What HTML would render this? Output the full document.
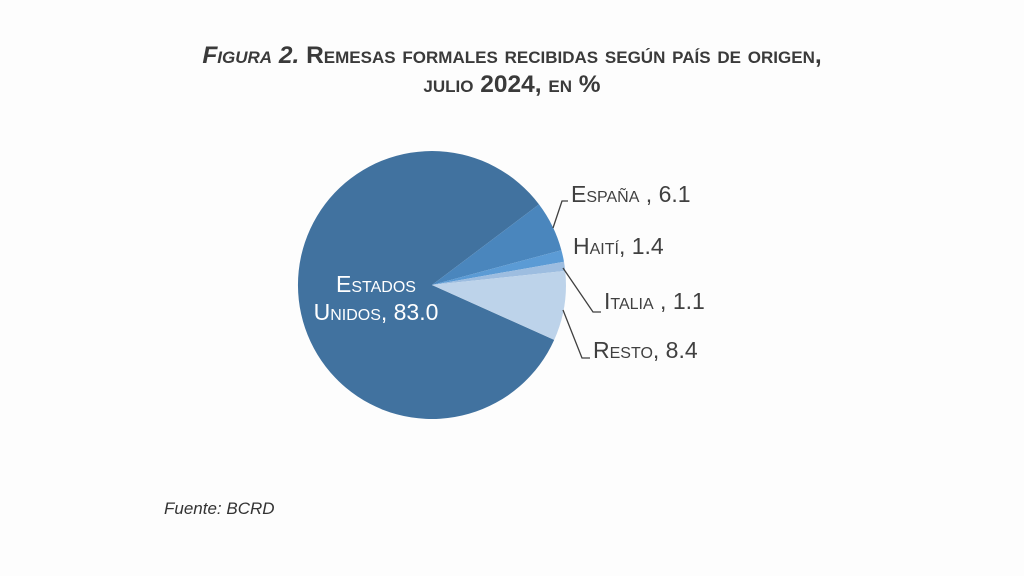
<!DOCTYPE html>
<html><head><meta charset="utf-8"><style>
body{margin:0;width:1024px;height:576px;background:#fdfdfd;overflow:hidden;font-family:"Liberation Sans",Arial,sans-serif;}
.t{position:absolute;left:0;width:1024px;text-align:center;font-weight:bold;font-variant:small-caps;font-size:24.5px;color:#3a3a3a;}
.l{position:absolute;font-variant:small-caps;font-size:23px;color:#404040;white-space:nowrap;}
</style></head><body>
<div class="t" style="top:42px"><i>Figura 2.</i> Remesas formales recibidas según país de origen,</div>
<div class="t" style="top:71px">julio 2024, en %</div>
<svg width="1024" height="576" style="position:absolute;left:0;top:0">
<path d="M432,285 L554.2,339.9 A134,134 0 1 1 539.0,204.4 Z" fill="#41729f"/>
<path d="M432,285 L539.0,204.4 A134,134 0 0 1 561.4,250.2 Z" fill="#4a86bd"/>
<path d="M432,285 L561.4,250.2 A134,134 0 0 1 564.0,261.7 Z" fill="#5b9bd5"/>
<path d="M432,285 L564.0,261.7 A134,134 0 0 1 565.2,270.9 Z" fill="#9dbde0"/>
<path d="M432,285 L565.2,270.9 A134,134 0 0 1 554.2,339.9 Z" fill="#bdd3ea"/>
<polyline points="553,228 562,201 568,201" fill="none" stroke="#404040" stroke-width="1.3"/>
<polyline points="563,268 593,312 601,312" fill="none" stroke="#404040" stroke-width="1.3"/>
<polyline points="563,310 582,358 590,358" fill="none" stroke="#404040" stroke-width="1.3"/>
</svg>
<div class="l" style="left:571px;top:181px">España , 6.1</div>
<div class="l" style="left:573px;top:233px">Haití, 1.4</div>
<div class="l" style="left:604px;top:288px">Italia , 1.1</div>
<div class="l" style="left:593px;top:337px">Resto, 8.4</div>
<div class="l" style="left:286px;top:270px;width:180px;text-align:center;color:#fff;line-height:28px">Estados<br>Unidos, 83.0</div>
<div style="position:absolute;left:164px;top:499px;font-size:17px;font-style:italic;color:#333">Fuente: BCRD</div>
</body></html>
